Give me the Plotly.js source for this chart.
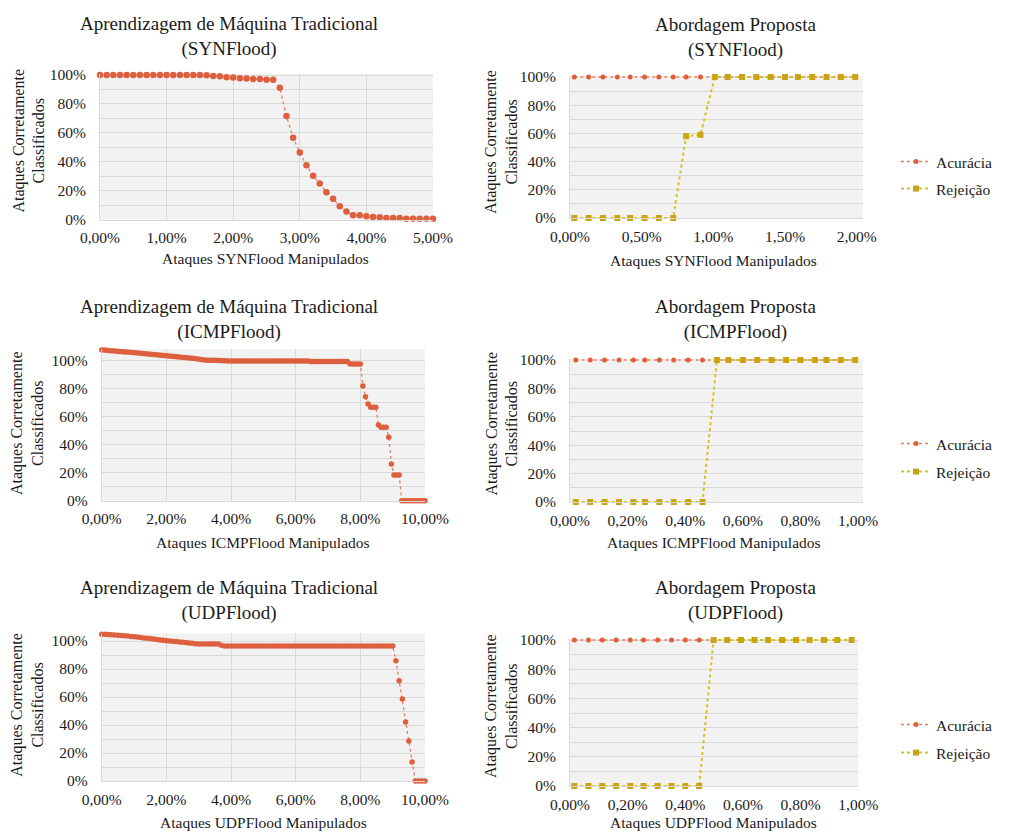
<!DOCTYPE html>
<html><head><meta charset="utf-8">
<script src="https://cdn.plot.ly/plotly-3.0.1.min.js"></script>
<style>html,body{margin:0;padding:0;background:#fff}#chart{width:1021px;height:832px}</style>
</head><body><div id="chart"></div>
<script>
// ---------- DATA (values in %) ----------
const synTradX = [0,0.1,0.2,0.3,0.4,0.5,0.6,0.7,0.8,0.9,1,1.1,1.2,1.3,1.4,1.5,1.6,1.7,1.8,1.9,2,2.1,2.2,2.3,2.4,2.5,2.6,2.7,2.8,2.9,3,3.1,3.2,3.3,3.4,3.5,3.6,3.7,3.8,3.9,4,4.1,4.2,4.3,4.4,4.5,4.6,4.7,4.8,4.9,5];
const synTradY = [100,100,100,100,100,100,100,100,100,100,100,100,100,100,100,100,99.8,99.3,99.1,98.4,98.2,97.7,97.5,97.2,97.2,96.8,96.8,91.2,71.6,56.6,46.4,37.6,30.2,24.9,18.9,14.3,9.2,5.5,3.0,3.0,2.3,1.8,1.6,1.0,1.0,1.0,0.5,0.5,0.5,0.5,0.5];

const icmpTradX = [0,0.08,0.16,0.24,0.32,0.4,0.48,0.56,0.64,0.72,0.8,0.88,0.96,1.04,1.12,1.2,1.28,1.36,1.44,1.52,1.6,1.68,1.76,1.84,1.92,2,2.08,2.16,2.24,2.32,2.4,2.48,2.56,2.64,2.72,2.8,2.88,2.96,3.04,3.12,3.2,3.28,3.36,3.44,3.52,3.6,3.68,3.76,3.84,3.92,4,4.08,4.16,4.24,4.32,4.4,4.48,4.56,4.64,4.72,4.8,4.88,4.96,5.04,5.12,5.2,5.28,5.36,5.44,5.52,5.6,5.68,5.76,5.84,5.92,6,6.08,6.16,6.24,6.32,6.4,6.48,6.56,6.64,6.72,6.8,6.88,6.96,7.04,7.12,7.2,7.28,7.36,7.44,7.52,7.6,7.68,7.76,7.84,7.92,8,8.08,8.16,8.24,8.32,8.4,8.48,8.56,8.64,8.72,8.8,8.88,8.96,9.04,9.12,9.2,9.28,9.36,9.44,9.52,9.6,9.68,9.76,9.84,9.92,10];
const icmpTradY = [107.9,107.8,107.6,107.4,107.3,107.1,106.9,106.8,106.6,106.5,106.4,106.2,106.1,105.9,105.7,105.5,105.4,105.2,105.0,104.8,104.7,104.5,104.3,104.1,104.0,103.8,103.6,103.4,103.2,103.0,102.8,102.6,102.5,102.3,102.1,101.9,101.7,101.5,101.2,100.9,100.7,100.6,100.6,100.5,100.5,100.4,100.3,100.2,100.1,100.0,100.0,
100,100,100,100,100,100,100,100,100,100,100,100,100,100,100,100,100,100,100,100,100,100,100,100,100,100,100,100,100,100,
99.6,99.6,99.6,99.6,99.6,99.6,99.6,99.6,99.6,99.6,99.6,99.6,99.6,99.6,99.6,
97.9,97.9,97.9,97.9,97.9,
82.1,74.4,69.2,66.9,66.9,66.9,54.2,52.5,52.5,52.5,45.4,26.3,18.4,18.4,18.4,
0,0,0,0,0,0,0,0,0,0];

const udpTradX = [0,0.1,0.2,0.3,0.4,0.5,0.6,0.7,0.8,0.9,1,1.1,1.2,1.3,1.4,1.5,1.6,1.7,1.8,1.9,2,2.1,2.2,2.3,2.4,2.5,2.6,2.7,2.8,2.9,3,3.1,3.2,3.3,3.4,3.5,3.6,3.7,3.8,3.9,4,4.1,4.2,4.3,4.4,4.5,4.6,4.7,4.8,4.9,5,5.1,5.2,5.3,5.4,5.5,5.6,5.7,5.8,5.9,6,6.1,6.2,6.3,6.4,6.5,6.6,6.7,6.8,6.9,7,7.1,7.2,7.3,7.4,7.5,7.6,7.7,7.8,7.9,8,8.1,8.2,8.3,8.4,8.5,8.6,8.7,8.8,8.9,9,9.1,9.2,9.3,9.4,9.5,9.6,9.7,9.8,9.9,10];
const udpTradY = [104.8,104.8,104.7,104.5,104.3,104.1,103.9,103.7,103.5,103.3,103.1,102.8,102.5,102.2,102.0,101.7,101.4,101.1,100.8,100.5,100.2,100.0,99.8,99.6,99.3,99.1,98.9,98.6,98.4,98.1,97.9,97.9,97.9,97.9,97.9,97.9,97.8,97.0,96.5,
96.5,96.5,96.5,96.5,96.5,96.5,96.5,96.5,96.5,96.5,96.5,96.5,96.5,96.5,96.5,96.5,96.5,96.5,96.5,96.5,96.5,96.5,96.5,96.5,96.5,96.5,
96.5,96.5,96.5,96.5,96.5,96.5,96.5,96.5,96.5,96.5,96.5,96.5,96.5,96.5,96.5,96.5,96.5,96.5,96.5,96.5,96.5,96.5,96.5,96.5,96.5,96.5,
85.9,71.6,58.5,42.2,28.6,13.6,0,0,0,0];

const synPropX = [0.03,0.13,0.23,0.33,0.42,0.52,0.62,0.72,0.81,0.91,1.01,1.10,1.20,1.30,1.40,1.50,1.59,1.69,1.79,1.89,1.99];
const synPropAcc = [100,100,100,100,100,100,100,100,100,100,100,100,100,100,100,100,100,100,100,100,100];
const synPropRej = [0,0,0,0,0,0,0,0,58,59,100,100,100,100,100,100,100,100,100,100,100];

const icmpPropX = [0.02,0.07,0.12,0.17,0.22,0.26,0.31,0.36,0.41,0.46,0.51,0.55,0.60,0.65,0.70,0.75,0.80,0.85,0.89,0.94,0.99];
const icmpPropAcc = [100,100,100,100,100,100,100,100,100,100,100,100,100,100,100,100,100,100,100,100,100];
const icmpPropRej = [0,0,0,0,0,0,0,0,0,0,100,100,100,100,100,100,100,100,100,100,100];

const udpPropX = [0.015,0.064,0.112,0.160,0.209,0.255,0.304,0.352,0.400,0.448,0.498,0.545,0.593,0.640,0.687,0.736,0.784,0.831,0.881,0.927,0.977];
const udpPropAcc = [100,100,100,100,100,100,100,100,100,100,100,100,100,100,100,100,100,100,100,100,100];
const udpPropRej = [0,0,0,0,0,0,0,0,0,0,100,100,100,100,100,100,100,100,100,100,100];

const titleTrad = "Aprendizagem de Máquina Tradicional";
const titleProp = "Abordagem Proposta";
const attackNames = ["SYNFlood","ICMPFlood","UDPFlood"];
const yTitle = "Ataques Corretamente<br>Classificados";
const seriesNames = ["Acurácia","Rejeição"];

// ---------- LAYOUT ----------
const W = 1021, H = 832;
const FONT = '"Liberation Serif","Times New Roman",Times,serif';
const TXT = '#1a1a1a';
const RED = '#dd5f3d', RED_L = '#e57e5e';
const GOLD = '#c9a516', GOLD_L = '#d6c21c';

const xd = (a,b)=>[a/W,b/W];
const yd = (t,b)=>[1-b/H,1-t/H];

const panels = [
  {k:'', x:[100,433], y:[74,219.5], xr:[0,5], yr:[0,100.7], xdt:1, grid:true},
  {k:'2', x:[570,863], y:[76,218], xr:[0,2.044], yr:[0,100.7], xdt:0.5, grid:false},
  {k:'3', x:[101.7,425], y:[349.1,500.7], xr:[0,10], yr:[0,108.5], xdt:2, grid:true},
  {k:'4', x:[570,863], y:[359,502], xr:[0,1.017], yr:[0,100.7], xdt:0.2, grid:false},
  {k:'5', x:[101.7,425], y:[633.3,781], xr:[0,10], yr:[0,105.5], xdt:2, grid:true},
  {k:'6', x:[570,858.3], y:[639,786], xr:[0,1.0], yr:[0,100.7], xdt:0.2, grid:false}
];

const layout = {
  width:W, height:H, margin:{l:0,r:0,t:0,b:0},
  paper_bgcolor:'#fff', plot_bgcolor:'#f2f2f2',
  separators:',.', showlegend:true,
  font:{family:FONT, size:15, color:TXT},
  annotations:[]
};

panels.forEach(p=>{
  layout['xaxis'+p.k] = {
    domain:xd(p.x[0],p.x[1]), range:p.xr, anchor:'y'+p.k,
    tick0:0, dtick:p.xdt, tickformat:'.2f', ticksuffix:'%',
    showgrid:p.grid, gridcolor:'#d9d9d9', gridwidth:1,
    showline:true, linecolor:'#d9d9d9', zeroline:false,
    ticks:'', ticklabelstandoff:4,
    tickfont:{family:FONT,size:15.5,color:TXT}, fixedrange:true
  };
  layout['yaxis'+p.k] = {
    domain:yd(p.y[0],p.y[1]), range:p.yr, anchor:'x'+p.k,
    tick0:0, dtick:20, tickformat:'d', ticksuffix:'%',
    showgrid:true, gridcolor:'#d9d9d9', gridwidth:1,
    minor:{dtick:10, showgrid:true, gridcolor:'#d9d9d9', gridwidth:1},
    showline:true, linecolor:'#d9d9d9', zeroline:false,
    ticks:'', ticklabelstandoff:10,
    tickfont:{family:FONT,size:15.5,color:TXT}, fixedrange:true
  };
});

function ann(text,xpx,ypx,size,angle){
  layout.annotations.push({text:text, xref:'paper', yref:'paper', x:xpx/W, y:1-ypx/H,
    xanchor:'center', yanchor:'middle', showarrow:false, textangle:angle||0,
    font:{family:FONT,size:size,color:TXT}});
}
// titles
ann(titleTrad+'<br>('+attackNames[0]+')', 229, 36.5, 19);
ann(titleProp+'<br>('+attackNames[0]+')', 736, 37, 19);
ann(titleTrad+'<br>('+attackNames[1]+')', 229, 319, 19);
ann(titleProp+'<br>('+attackNames[1]+')', 736, 319, 19);
ann(titleTrad+'<br>('+attackNames[2]+')', 229, 600, 19);
ann(titleProp+'<br>('+attackNames[2]+')', 736, 600, 19);
// y titles
ann(yTitle, 28, 140.5, 16, -90);
ann(yTitle, 501, 141.7, 16, -90);
ann(yTitle, 27, 423, 16, -90);
ann(yTitle, 501, 423.5, 16, -90);
ann(yTitle, 27, 704.7, 16, -90);
ann(yTitle, 501, 706, 16, -90);
// x titles
ann('Ataques '+attackNames[0]+' Manipulados', 265.8, 259, 15.5);
ann('Ataques '+attackNames[0]+' Manipulados', 713.7, 260, 15.5);
ann('Ataques '+attackNames[1]+' Manipulados', 262.8, 542.3, 15.5);
ann('Ataques '+attackNames[1]+' Manipulados', 714.2, 542.3, 15.5);
ann('Ataques '+attackNames[2]+' Manipulados', 263.8, 822, 15.5);
ann('Ataques '+attackNames[2]+' Manipulados', 713.7, 822, 15.5);

// legends (one per entry)
const legY = [162,189,444,472,725,753];
legY.forEach((yy,i)=>{
  const key = i===0 ? 'legend' : 'legend'+(i+1);
  layout[key] = {x:896/W, xanchor:'left', y:1-yy/H, yanchor:'middle',
    bgcolor:'rgba(0,0,0,0)', borderwidth:0, font:{family:FONT,size:15.5,color:TXT},
    itemwidth:30};
});

// ---------- TRACES ----------
const traces = [];
function trad(x,y,k,ms){
  traces.push({type:'scatter', mode:'lines+markers', x:x, y:y, xaxis:'x'+k, yaxis:'y'+k,
    line:{color:RED_L, width:1.3, dash:'dot'}, marker:{color:RED, size:ms, symbol:'circle'},
    showlegend:false, cliponaxis:false, hoverinfo:'x+y'});
}
trad(synTradX, synTradY, '', 6.5);
trad(icmpTradX, icmpTradY, '3', 5.5);
trad(udpTradX, udpTradY, '5', 5.5);

function prop(x,acc,rej,k,l1,l2){
  traces.push({type:'scatter', mode:'lines+markers', name:seriesNames[0], x:x, y:acc,
    xaxis:'x'+k, yaxis:'y'+k, legend:l1,
    line:{color:RED_L, width:1.5, dash:'dot'}, marker:{color:RED, size:5, symbol:'circle'},
    cliponaxis:false});
  traces.push({type:'scatter', mode:'lines+markers', name:seriesNames[1], x:x, y:rej,
    xaxis:'x'+k, yaxis:'y'+k, legend:l2,
    line:{color:GOLD_L, width:2, dash:'dot'}, marker:{color:GOLD, size:6, symbol:'square'},
    cliponaxis:false});
}
prop(synPropX, synPropAcc, synPropRej, '2', 'legend', 'legend2');
prop(icmpPropX, icmpPropAcc, icmpPropRej, '4', 'legend3', 'legend4');
prop(udpPropX, udpPropAcc, udpPropRej, '6', 'legend5', 'legend6');

Plotly.newPlot('chart', traces, layout, {displayModeBar:false, staticPlot:true});
</script></body></html>
